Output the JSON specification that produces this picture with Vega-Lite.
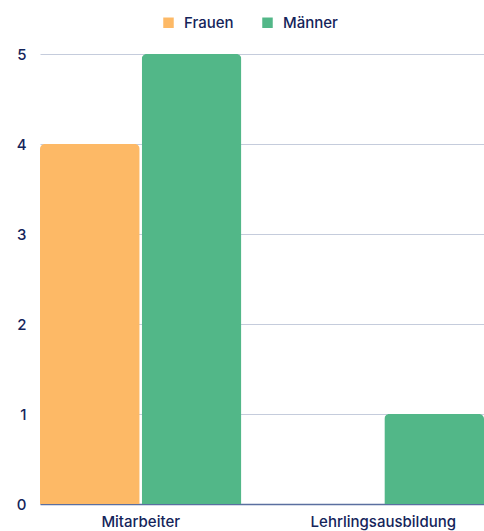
{
  "$schema": "https://vega.github.io/schema/vega-lite/v6.json",
  "width": 444,
  "height": 450,
  "autosize": {"type": "none"},
  "padding": {"left": 40, "top": 54, "right": 0, "bottom": 27},
  "background": "white",
  "data": {
    "values": [
      {"Bereich": "Mitarbeiter", "Geschlecht": "Frauen", "Anzahl": 4},
      {"Bereich": "Mitarbeiter", "Geschlecht": "Männer", "Anzahl": 5},
      {"Bereich": "Lehrlingsausbildung", "Geschlecht": "Frauen", "Anzahl": 0},
      {"Bereich": "Lehrlingsausbildung", "Geschlecht": "Männer", "Anzahl": 1}
    ]
  },
  "config": {
    "font": "Inter",
    "view": {"stroke": null},
    "axis": {"labelColor": "#14245A", "labelFont": "Inter", "labelFontSize": 15, "labelFontWeight": 500, "titleColor": "#14245A"},
    "legend": {"labelColor": "#14245A", "labelFont": "Inter", "labelFontSize": 15, "labelFontWeight": 500}
  },
  "mark": {"type": "bar", "cornerRadiusTopLeft": 5, "cornerRadiusTopRight": 5},
  "encoding": {
    "x": {
      "field": "Bereich",
      "type": "nominal",
      "sort": ["Mitarbeiter", "Lehrlingsausbildung"],
      "scale": {"paddingInner": 0.17, "paddingOuter": 0},
      "axis": {"title": null, "labelAngle": 0, "domain": true, "domainColor": "#5A6FA0", "domainWidth": 1.5, "ticks": false, "labelPadding": 10}
    },
    "xOffset": {
      "field": "Geschlecht",
      "type": "nominal",
      "sort": ["Frauen", "Männer"],
      "scale": {"paddingInner": 0.02}
    },
    "y": {
      "field": "Anzahl",
      "type": "quantitative",
      "scale": {"domain": [0, 5], "nice": false},
      "axis": {"title": null, "tickCount": 5, "domain": false, "ticks": false, "labelPadding": 14, "gridColor": "#C5CCDC", "gridWidth": 1, "labelAlign": "right"}
    },
    "color": {
      "field": "Geschlecht",
      "type": "nominal",
      "sort": ["Frauen", "Männer"],
      "scale": {"domain": ["Frauen", "Männer"], "range": ["#FDB966", "#52B788"]},
      "legend": {"title": null, "orient": "none", "legendX": 121, "legendY": -39, "direction": "horizontal", "symbolType": "square", "symbolSize": 110, "symbolStrokeWidth": 0, "columnPadding": 26, "labelOffset": 8}
    }
  }
}
